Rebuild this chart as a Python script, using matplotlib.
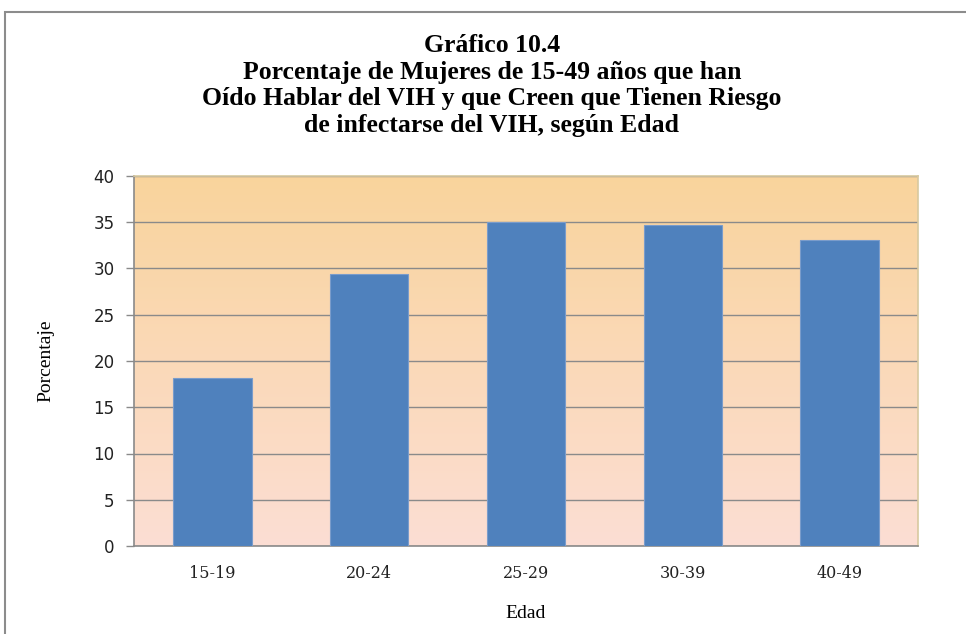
import matplotlib.pyplot as plt
import numpy as np
from matplotlib.colors import LinearSegmentedColormap
from matplotlib.patches import Rectangle

categories = ["15-19", "20-24", "25-29", "30-39", "40-49"]
values = [18.2, 29.4, 35.0, 34.7, 33.1]
yticks = [0, 5, 10, 15, 20, 25, 30, 35, 40]

title = ("Gráfico 10.4\n"
         "Porcentaje de Mujeres de 15-49 años que han\n"
         "Oído Hablar del VIH y que Creen que Tienen Riesgo\n"
         "de infectarse del VIH, según Edad")

fig = plt.figure(figsize=(9.66, 6.34), dpi=100)
fig.patch.set_facecolor("white")

# outer frame of the chart area
fig.patches.append(Rectangle((5 / 966, -0.05), 1.2, 1 - 12 / 634 + 0.05,
                             transform=fig.transFigure, fill=False,
                             edgecolor="#8c8c8c", linewidth=1.5))

ax = fig.add_axes([134 / 966, 1 - 546 / 634, 784 / 966, 370 / 634])

# peach-to-pink vertical gradient behind the bars
cmap = LinearSegmentedColormap.from_list("bg", ["#FCDED4", "#F9D49C"])
grad = np.linspace(0, 1, 256).reshape(-1, 1)
ax.imshow(grad, cmap=cmap, origin="lower", extent=[0, 1, 0, 1],
          transform=ax.transAxes, aspect="auto", zorder=0)

x = np.arange(len(categories))
ax.bar(x, values, width=0.5, color="#4F81BD", edgecolor="#7A9CCB",
       linewidth=0.8, zorder=3)

ax.set_xlim(-0.5, len(categories) - 0.5)
ax.set_ylim(0, 40)
ax.set_yticks(yticks)
ax.yaxis.grid(True, color="#8a8a8a", linewidth=1.0, zorder=1)
ax.set_axisbelow(True)

ax.set_xticks(x)
ax.set_xticklabels(categories, family="DejaVu Serif", fontsize=11.5)
ax.tick_params(axis="x", length=0, pad=14, colors="#222222")
ax.tick_params(axis="y", length=6, width=1, color="#8a8a8a", labelsize=12,
               labelcolor="#222222", pad=8)
for lab in ax.get_yticklabels():
    lab.set_family("DejaVu Sans")

for side in ("left", "bottom"):
    ax.spines[side].set_color("#8a8a8a")
    ax.spines[side].set_linewidth(1.2)
for side in ("top", "right"):
    ax.spines[side].set_color("#D8C9A0")
    ax.spines[side].set_linewidth(1.2)

ax.set_ylabel("Porcentaje", family="Liberation Serif", fontsize=14,
              labelpad=28)
ax.set_xlabel("Edad", family="Liberation Serif", fontsize=14, labelpad=16)

fig.text(492 / 966, 1 - 34 / 634, title, ha="center", va="top",
         family="Liberation Serif", fontweight="bold", fontsize=18.5,
         linespacing=1.2)

fig.savefig("out.png", dpi=100)
